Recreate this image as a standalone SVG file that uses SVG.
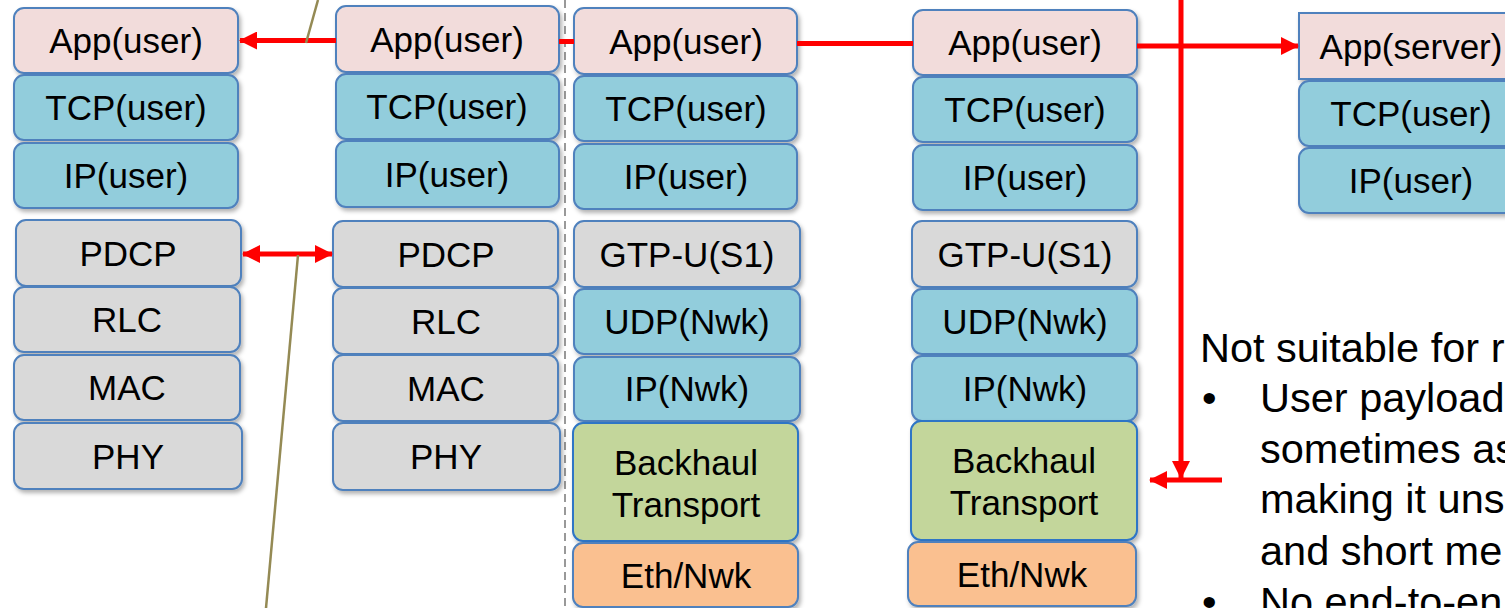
<svg xmlns="http://www.w3.org/2000/svg" width="1505" height="608" viewBox="0 0 1505 608">
  <defs>
    <filter id="shadow" x="-10%" y="-10%" width="130%" height="140%">
      <feDropShadow dx="2" dy="3" stdDeviation="2" flood-color="#000" flood-opacity="0.3"/>
    </filter>
    <marker id="head" viewBox="0 0 18 18" refX="17" refY="9" markerWidth="18" markerHeight="18" markerUnits="userSpaceOnUse" orient="auto-start-reverse">
      <path d="M0,0 L18,9 L0,18 Z" fill="#ff0000"/>
    </marker>
  </defs>
  <style>
    .box { stroke: #4f81bd; stroke-width: 2; filter: url(#shadow); }
    .app { fill: #f2dcdb; }
    .tcp { fill: #92cddc; }
    .grey { fill: #d9d9d9; }
    .bh { fill: #c3d69b; stroke: #2e75c6; }
    .eth { fill: #fac090; }
    .lbl { font-family: "Liberation Sans", Arial, sans-serif; font-size: 35px; fill: #000; text-anchor: middle; }
    .note { font-family: "Liberation Sans", Arial, sans-serif; font-size: 41.5px; fill: #000; }
    .red { stroke: #ff0000; stroke-width: 5; fill: none; }
    .olive { stroke: #948a54; stroke-width: 2.5; fill: none; }
  </style>
  <rect width="1505" height="608" fill="#ffffff"/>

  <!-- divider between UE/eNB side and core side -->
  <line x1="565" y1="0" x2="565" y2="608" stroke="#808080" stroke-width="1.6" stroke-dasharray="8 5"/>

  <!-- UE stack -->
  <g id="ue">
    <g id="ue-app"><rect class="box app" x="14" y="8" width="224" height="65" rx="10"/><text class="lbl" x="126" y="53">App(user)</text></g>
    <g id="ue-tcp"><rect class="box tcp" x="14" y="75" width="224" height="65" rx="10"/><text class="lbl" x="126" y="120">TCP(user)</text></g>
    <g id="ue-ip"><rect class="box tcp" x="14" y="143" width="224" height="65" rx="10"/><text class="lbl" x="126" y="188">IP(user)</text></g>
    <g id="ue-pdcp"><rect class="box grey" x="16" y="220" width="225" height="66" rx="10"/><text class="lbl" x="128" y="266">PDCP</text></g>
    <g id="ue-rlc"><rect class="box grey" x="14" y="287" width="226" height="65" rx="10"/><text class="lbl" x="127" y="332">RLC</text></g>
    <g id="ue-mac"><rect class="box grey" x="14" y="355" width="226" height="65" rx="10"/><text class="lbl" x="127" y="400">MAC</text></g>
    <g id="ue-phy"><rect class="box grey" x="14" y="423" width="228" height="66" rx="10"/><text class="lbl" x="128" y="469">PHY</text></g>
  </g>

  <!-- eNB radio stack -->
  <g id="enb">
    <g id="enb-app"><rect class="box app" x="336" y="6" width="223" height="66" rx="10"/><text class="lbl" x="447" y="52">App(user)</text></g>
    <g id="enb-tcp"><rect class="box tcp" x="336" y="74" width="223" height="65" rx="10"/><text class="lbl" x="447" y="119">TCP(user)</text></g>
    <g id="enb-ip"><rect class="box tcp" x="336" y="141" width="223" height="66" rx="10"/><text class="lbl" x="447" y="187">IP(user)</text></g>
    <g id="enb-pdcp"><rect class="box grey" x="333" y="221" width="225" height="66" rx="10"/><text class="lbl" x="446" y="267">PDCP</text></g>
    <g id="enb-rlc"><rect class="box grey" x="333" y="288" width="225" height="66" rx="10"/><text class="lbl" x="446" y="334">RLC</text></g>
    <g id="enb-mac"><rect class="box grey" x="333" y="355" width="225" height="66" rx="10"/><text class="lbl" x="446" y="401">MAC</text></g>
    <g id="enb-phy"><rect class="box grey" x="333" y="423" width="227" height="67" rx="10"/><text class="lbl" x="446" y="469">PHY</text></g>
  </g>

  <!-- eNB backhaul stack -->
  <g id="enb-s1">
    <g id="s1a-app"><rect class="box app" x="574" y="8" width="223" height="66" rx="10"/><text class="lbl" x="686" y="54">App(user)</text></g>
    <g id="s1a-tcp"><rect class="box tcp" x="574" y="76" width="223" height="65" rx="10"/><text class="lbl" x="686" y="121">TCP(user)</text></g>
    <g id="s1a-ip"><rect class="box tcp" x="574" y="144" width="223" height="65" rx="10"/><text class="lbl" x="686" y="189">IP(user)</text></g>
    <g id="s1a-gtp"><rect class="box grey" x="574" y="221" width="226" height="66" rx="10"/><text class="lbl" x="687" y="267">GTP-U(S1)</text></g>
    <g id="s1a-udp"><rect class="box tcp" x="574" y="289" width="226" height="65" rx="10"/><text class="lbl" x="687" y="334">UDP(Nwk)</text></g>
    <g id="s1a-ipn"><rect class="box tcp" x="574" y="357" width="226" height="64" rx="10"/><text class="lbl" x="687" y="401">IP(Nwk)</text></g>
    <g id="s1a-bh"><rect class="box bh" x="573" y="423" width="225" height="118" rx="10"/><text class="lbl" x="686" y="475">Backhaul</text><text class="lbl" x="686" y="517">Transport</text></g>
    <g id="s1a-eth"><rect class="box eth" x="573" y="543" width="225" height="64" rx="10"/><text class="lbl" x="686" y="588">Eth/Nwk</text></g>
  </g>

  <!-- core side stack -->
  <g id="core">
    <g id="core-app"><rect class="box app" x="913" y="10" width="224" height="65" rx="10"/><text class="lbl" x="1025" y="55">App(user)</text></g>
    <g id="core-tcp"><rect class="box tcp" x="913" y="77" width="224" height="65" rx="10"/><text class="lbl" x="1025" y="122">TCP(user)</text></g>
    <g id="core-ip"><rect class="box tcp" x="913" y="145" width="224" height="65" rx="10"/><text class="lbl" x="1025" y="190">IP(user)</text></g>
    <g id="core-gtp"><rect class="box grey" x="912" y="221" width="225" height="66" rx="10"/><text class="lbl" x="1025" y="267">GTP-U(S1)</text></g>
    <g id="core-udp"><rect class="box tcp" x="912" y="289" width="225" height="65" rx="10"/><text class="lbl" x="1025" y="334">UDP(Nwk)</text></g>
    <g id="core-ipn"><rect class="box tcp" x="912" y="356" width="225" height="65" rx="10"/><text class="lbl" x="1025" y="401">IP(Nwk)</text></g>
    <g id="core-bh"><rect class="box bh" x="911" y="421" width="226" height="119" rx="10"/><text class="lbl" x="1024" y="473">Backhaul</text><text class="lbl" x="1024" y="515">Transport</text></g>
    <g id="core-eth"><rect class="box eth" x="908" y="542" width="228" height="64" rx="10"/><text class="lbl" x="1022" y="587">Eth/Nwk</text></g>
  </g>

  <!-- server stack -->
  <g id="server">
    <g id="srv-app"><rect class="box app" x="1299" y="13" width="224" height="66"/><text class="lbl" x="1411" y="59">App(server)</text></g>
    <g id="srv-tcp"><rect class="box tcp" x="1299" y="81" width="224" height="65" rx="10"/><text class="lbl" x="1411" y="126">TCP(user)</text></g>
    <g id="srv-ip"><rect class="box tcp" x="1299" y="148" width="224" height="65" rx="10"/><text class="lbl" x="1411" y="193">IP(user)</text></g>
  </g>

  <!-- connectors -->
  <g id="connectors">
    <line class="red" x1="336" y1="40.5" x2="240" y2="40.5" marker-end="url(#head)"/>
    <line class="red" x1="559" y1="41.5" x2="574" y2="41.5"/>
    <line class="red" x1="797" y1="43.5" x2="913" y2="43.5"/>
    <line class="red" x1="1137" y1="46" x2="1298" y2="46" marker-end="url(#head)"/>
    <line class="red" x1="1181" y1="0" x2="1181" y2="478" marker-end="url(#head)"/>
    <line class="red" x1="1222" y1="480" x2="1150" y2="480" marker-end="url(#head)"/>
    <line class="red" x1="243" y1="254" x2="332" y2="254" marker-start="url(#head)" marker-end="url(#head)"/>
    <line class="olive" x1="318" y1="0" x2="306" y2="43"/>
    <line class="olive" x1="298" y1="255" x2="266" y2="608"/>
  </g>

  <!-- side note -->
  <g id="note">
    <text class="note" x="1200" y="362">Not suitable for r</text>
    <text class="note" x="1202" y="412">•</text>
    <text class="note" x="1260" y="412">User payload</text>
    <text class="note" x="1260" y="463">sometimes as</text>
    <text class="note" x="1260" y="513">making it uns</text>
    <text class="note" x="1260" y="565">and short me</text>
    <text class="note" x="1202" y="616">•</text>
    <text class="note" x="1260" y="616">No end-to-en</text>
  </g>
</svg>
